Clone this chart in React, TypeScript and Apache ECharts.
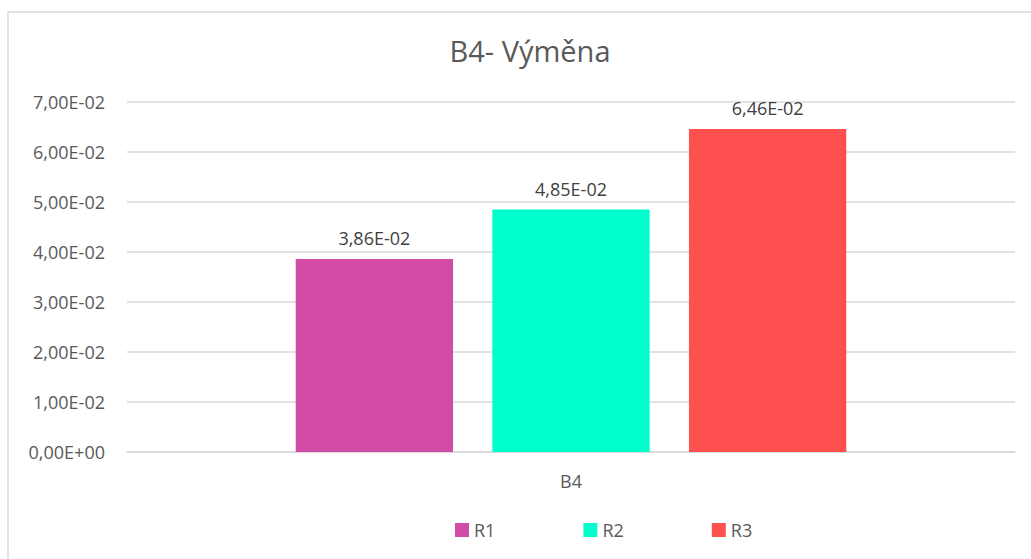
import React, { useEffect, useRef } from "react";
import * as echarts from "echarts";

const title = "B4- Výměna";
const categories = ["B4"];
const seriesNames = ["R1", "R2", "R3"];
const seriesValues = [[0.0386], [0.0485], [0.0646]];
const seriesColors = ["#D04AA6", "#00FFCC", "#FF5050"];
const yMin = 0;
const yMax = 0.07;
const yInterval = 0.01;

const FONT = "'Open Sans', 'Noto Sans', sans-serif";
const TEXT = "#595959";

function fmtExp(v: number): string {
  if (v === 0) return "0,00E+00";
  const s = v.toExponential(2);
  const [m, e] = s.split("e");
  const n = parseInt(e, 10);
  const sign = n < 0 ? "-" : "+";
  const abs = Math.abs(n).toString().padStart(2, "0");
  return m.replace(".", ",") + "E" + sign + abs;
}

export default function App() {
  const ref = useRef<HTMLDivElement>(null);
  useEffect(() => {
    document.body.style.margin = "0";
    const chart = echarts.init(ref.current!, null, { renderer: "svg" });
    chart.setOption({
      animation: false,
      backgroundColor: "#ffffff",
      textStyle: { fontFamily: FONT },
      title: {
        text: title,
        left: 525,
        top: 31,
        textAlign: "center",
        textStyle: { fontFamily: FONT, fontSize: 29, fontWeight: "normal", color: TEXT },
      },
      graphic: [
        {
          type: "rect",
          shape: { x: 8, y: 12, width: 1100, height: 600 },
          style: { fill: "none", stroke: "#D9D9D9", lineWidth: 1.5 },
          silent: true,
        },
      ],
      legend: {
        data: seriesNames,
        left: 450,
        top: 516,
        itemWidth: 14,
        itemHeight: 14,
        itemGap: 88,
        icon: "rect",
        textStyle: { fontFamily: FONT, fontSize: 18, color: TEXT },
      },
      grid: { left: 127, right: 16, top: 102, bottom: 107, containLabel: false },
      xAxis: {
        type: "category",
        data: categories,
        axisLine: { lineStyle: { color: "#D9D9D9", width: 1.5 } },
        axisTick: { show: false },
        axisLabel: { fontFamily: FONT, fontSize: 18, color: TEXT, margin: 20 },
      },
      yAxis: {
        type: "value",
        min: yMin,
        max: yMax,
        interval: yInterval,
        axisLine: { show: false },
        axisTick: { show: false },
        splitLine: { lineStyle: { color: "#D9D9D9", width: 1.5 } },
        axisLabel: {
          fontFamily: FONT,
          fontSize: 18,
          color: TEXT,
          margin: 22,
          formatter: (v: number) => fmtExp(v),
        },
      },
      series: seriesNames.map((name, i) => ({
        name,
        type: "bar",
        data: seriesValues[i],
        barGap: "25%",
        barCategoryGap: "38%",
        itemStyle: { color: seriesColors[i] },
        label: {
          show: true,
          position: "top",
          distance: 12,
          fontFamily: FONT,
          fontSize: 18,
          color: "#404040",
          formatter: (p: any) => fmtExp(p.value),
        },
      })),
    });
    return () => chart.dispose();
  }, []);
  return <div ref={ref} style={{ width: 1031, height: 559 }} />;
}
